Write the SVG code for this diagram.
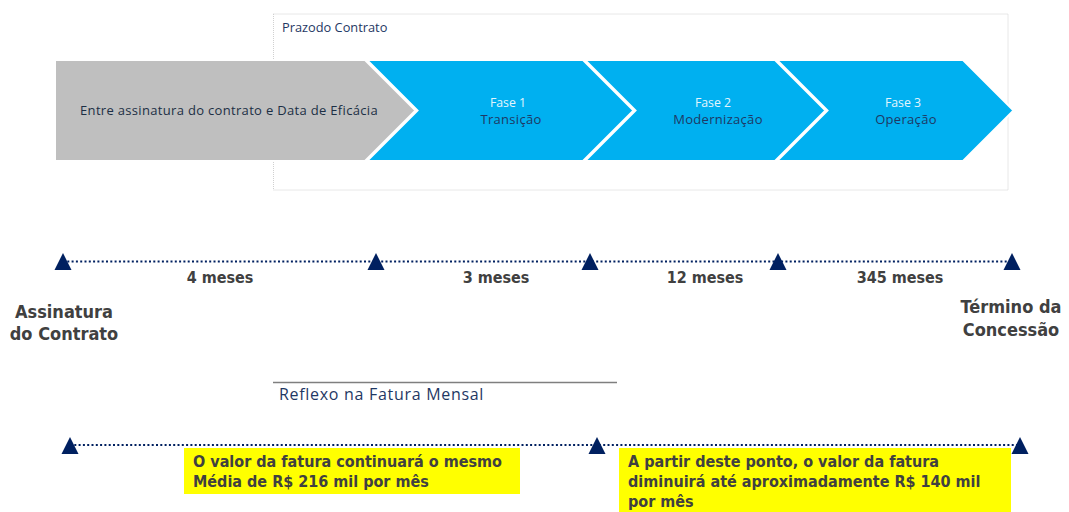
<svg xmlns="http://www.w3.org/2000/svg" width="1069" height="512" viewBox="0 0 1069 512">
<style>
.chev{stroke:#ffffff;stroke-width:2;stroke-linejoin:miter}
.gray{fill:#bfbfbf}
.blue{fill:#00b0f0}
.seg{font-family:"Open Sans","Noto Sans",sans-serif}
.fase{fill:#e3f5fd;text-anchor:middle;font-size:12.3px}
.name{fill:#1f3864;text-anchor:middle;font-size:13px;letter-spacing:0.3px}
.bold{font-family:"DejaVu Sans Condensed","DejaVu Sans",sans-serif;font-weight:bold;fill:#404040;font-stretch:condensed}
.mes{font-size:16px;text-anchor:middle}
.big{font-size:18px;text-anchor:middle}
.note{font-size:16px}
.dots{stroke:#002060;stroke-width:2.2;stroke-dasharray:2 2.3;fill:none}
.tri{fill:#002060}
.yel{fill:#ffff00}
</style>
<defs>
<path id="tri" d="M0,0 L8.5,17 L-8.5,17 Z"/>
</defs>

<g id="prazo-frame">
<rect x="273.5" y="14" width="734.5" height="176" fill="none" stroke="#d0d0d0" stroke-width="1" stroke-dasharray="1 1"/>
<text x="282" y="32" class="seg" font-size="12.8" fill="#1f3864">Prazodo Contrato</text>
</g>

<g id="node-eficacia">
<path class="chev gray" d="M55,60 L365,60 L415.5,110.5 L365,161 L55,161 Z" stroke="none"/>
<text x="229" y="115" class="seg" font-size="13" letter-spacing="0.32" fill="#1c2f45" text-anchor="middle">Entre assinatura do contrato e Data de Eficácia</text>
</g>
<g id="node-fase1">
<path class="chev blue" d="M367,60 L583,60 L633.5,110.5 L583,161 L367,161 L417.5,110.5 Z"/>
<text x="508" y="107" class="seg fase">Fase 1</text>
<text x="511" y="124" class="seg name">Transição</text>
</g>
<g id="node-fase2">
<path class="chev blue" d="M585,60 L775,60 L825.5,110.5 L775,161 L585,161 L635.5,110.5 Z"/>
<text x="713" y="107" class="seg fase">Fase 2</text>
<text x="718" y="124" class="seg name">Modernização</text>
</g>
<g id="node-fase3">
<path class="chev blue" d="M777,60 L963,60 L1013.5,110.5 L963,161 L777,161 L827.5,110.5 Z"/>
<text x="903" y="107" class="seg fase">Fase 3</text>
<text x="906" y="124" class="seg name">Operação</text>
</g>

<g id="connectors">
<line class="dots" x1="63" y1="261.5" x2="1012" y2="261.5"/>
<line class="dots" x1="70" y1="445" x2="1020" y2="445"/>
<line x1="273" y1="382.5" x2="617" y2="382.5" stroke="#7f7f7f" stroke-width="1.3"/>
</g>

<g id="timeline-markers">
<use href="#tri" class="tri" x="63" y="253"/>
<use href="#tri" class="tri" x="376" y="253"/>
<use href="#tri" class="tri" x="590" y="253"/>
<use href="#tri" class="tri" x="778" y="253"/>
<use href="#tri" class="tri" x="1012" y="253"/>
</g>

<g id="durations">
<text x="220" y="283" class="bold mes">4 meses</text>
<text x="496" y="283" class="bold mes">3 meses</text>
<text x="705" y="283" class="bold mes">12 meses</text>
<text x="900" y="283" class="bold mes">345 meses</text>
</g>

<g id="node-assinatura">
<text x="64" y="318" class="bold big">Assinatura</text>
<text x="64" y="340" class="bold big">do Contrato</text>
</g>
<g id="node-termino">
<text x="1011" y="313" class="bold big">Término da</text>
<text x="1011" y="336" class="bold big">Concessão</text>
</g>

<g id="reflexo-title">
<text x="279" y="400" font-family="'Open Sans','Noto Sans',sans-serif" font-size="16" letter-spacing="0.7" fill="#1f3864">Reflexo na Fatura Mensal</text>
</g>

<g id="invoice-markers">
<use href="#tri" class="tri" x="70" y="437"/>
<use href="#tri" class="tri" x="597" y="437"/>
<use href="#tri" class="tri" x="1020" y="437"/>
</g>

<g id="node-note1">
<rect class="yel" x="184" y="448" width="336" height="46"/>
<text x="193" y="467" class="bold note">O valor da fatura continuará o mesmo</text>
<text x="193" y="487" class="bold note">Média de R$ 216 mil por mês</text>
</g>
<g id="node-note2">
<rect class="yel" x="619" y="448" width="392" height="64"/>
<text x="628" y="467" class="bold note">A partir deste ponto, o valor da fatura</text>
<text x="628" y="487" class="bold note">diminuirá até aproximadamente R$ 140 mil</text>
<text x="628" y="507" class="bold note">por mês</text>
</g>
</svg>
